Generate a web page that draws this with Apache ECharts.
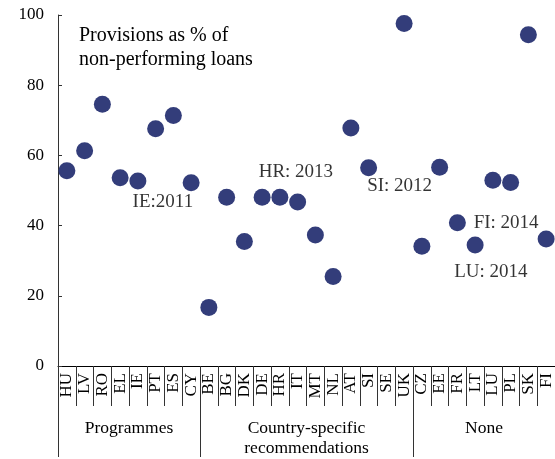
<!DOCTYPE html>
<html>
<head>
<meta charset="utf-8">
<script src="https://cdn.jsdelivr.net/npm/echarts@6/dist/echarts.min.js"></script>
<style>html,body{margin:0;padding:0;background:#fff;}#c{width:555px;height:459px;}</style>
</head>
<body>
<div id="c"></div>
<script>
const categories = ['HU','LV','RO','EL','IE','PT','ES','CY','BE','BG','DK','DE','HR','IT','MT','NL','AT','SI','SE','UK','CZ','EE','FR','LT','LU','PL','SK','FI'];
const provisions = [55.6,61.3,74.6,53.6,52.7,67.6,71.4,52.2,16.7,48.1,35.5,48.1,48.1,46.7,37.3,25.5,67.8,56.5,null,97.6,34.1,56.6,40.8,34.5,52.9,52.3,94.4,36.2];
const groupNames = ['Programmes','Country-specific\nrecommendations','None'];
const groupStarts = [0, 8, 20];
const groupSizes = [8, 12, 8];
const yTicks = [0, 20, 40, 60, 80, 100];
const annotationText = ['IE:2011','HR: 2013','SI: 2012','FI: 2014','LU: 2014'];
const annotationCat = ['IE','HR','SI','FI','LU'];
const annotationVal = [46.7, 55.3, 51.3, 40.8, 26.9];
const annotationDx = [25, 16, 31, -40, -2];

const FONT = '"Liberation Serif", "Times New Roman", serif';
const LINE = '#333';

const groupLabelIdx = {};
groupStarts.forEach((s, i) => { groupLabelIdx[s + groupSizes[i] / 2] = i; });
const groupBoundary = new Set(groupStarts);

const chart = echarts.init(document.getElementById('c'), null, {renderer: 'canvas'});
const catW = 497 / categories.length;
chart.setOption({
  animation: false,
  backgroundColor: '#fff',
  title: {
    text: 'Provisions as % of\nnon-performing loans',
    left: 79, top: 24, padding: 0,
    textStyle: {fontFamily: FONT, fontSize: 20, fontWeight: 'normal', color: '#000', lineHeight: 24}
  },
  grid: {left: 58, top: 15, right: 0, bottom: 93, containLabel: false},
  xAxis: [{
    type: 'category',
    data: categories,
    boundaryGap: true,
    position: 'bottom',
    axisLine: {show: true, lineStyle: {color: '#000', width: 1}},
    axisTick: {show: true, interval: 0, length: 40, lineStyle: {color: LINE, width: 1}},
    axisLabel: {interval: 0, rotate: 90, margin: 7, fontFamily: FONT, fontSize: 17, color: '#000'},
    splitLine: {show: false}
  }, {
    type: 'category',
    data: categories,
    boundaryGap: true,
    position: 'bottom',
    offset: 40,
    axisLine: {show: false},
    axisTick: {show: true, length: 51, interval: (i) => groupBoundary.has(i), lineStyle: {color: LINE, width: 1}},
    axisLabel: {
      interval: (i) => groupLabelIdx[i] !== undefined,
      formatter: (v, i) => groupLabelIdx[i] !== undefined ? groupNames[groupLabelIdx[i]] : '',
      margin: 12, fontFamily: FONT, fontSize: 17.5, color: '#000', lineHeight: 20,
      padding: [0, catW, 0, 0]
    },
    splitLine: {show: false}
  }],
  yAxis: {
    type: 'value', min: 0, max: 100, interval: 20,
    axisLine: {show: true, lineStyle: {color: LINE, width: 1}},
    axisTick: {show: true, inside: true, length: 4, lineStyle: {color: LINE}},
    axisLabel: {margin: 14, fontFamily: FONT, fontSize: 17, color: '#000', formatter: (v) => yTicks.includes(v) ? String(v) : ''},
    splitLine: {show: false}
  },
  series: [{
    type: 'scatter',
    xAxisIndex: 0,
    data: provisions.map((v, i) => [categories[i], v]),
    symbol: 'circle',
    symbolSize: 17,
    itemStyle: {color: '#333d7a', opacity: 1},
    z: 3
  }, {
    type: 'scatter',
    xAxisIndex: 0,
    data: annotationCat.map((c, i) => ({value: [c, annotationVal[i]], name: annotationText[i],
      label: {offset: [annotationDx[i], 0]}})),
    symbolSize: 0,
    silent: true,
    label: {show: true, position: 'inside', formatter: (p) => p.name, fontFamily: FONT, fontSize: 19, color: '#000'},
    z: 4
  }]
});
</script>
</body>
</html>
